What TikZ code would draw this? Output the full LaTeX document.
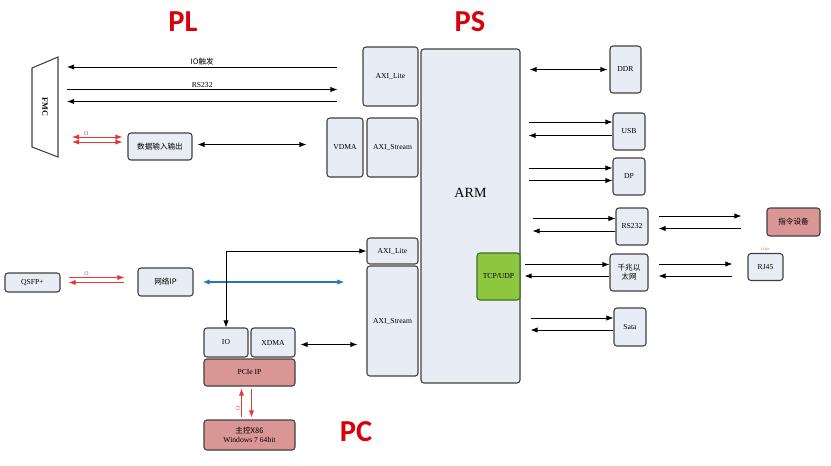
\documentclass[tikz,border=0pt]{standalone}
\usepackage{fontspec}
\setmainfont{Liberation Serif}
\newfontfamily\cjk{Noto Sans CJK SC}
\newfontfamily\titlefont{Carlito}
\usetikzlibrary{calc,arrows.meta}
\definecolor{boxfill}{HTML}{E8ECF4}
\definecolor{boxline}{HTML}{404040}
\definecolor{pinkfill}{HTML}{D99694}
\definecolor{armgreen}{HTML}{8DC63F}
\definecolor{greenline}{HTML}{3F6F1F}
\definecolor{linkred}{HTML}{E5383B}
\definecolor{linkblue}{HTML}{2E75B6}
\definecolor{titlered}{HTML}{D9000D}
\tikzset{
  blk/.style={draw=boxline, fill=boxfill, line width=0.9pt, rounded corners=2.5pt,
    inner sep=1pt, align=center, font=\fontsize{6.5}{7.5}\selectfont},
  pinkblk/.style={blk, fill=pinkfill},
  titletxt/.style={font=\titlefont\bfseries\fontsize{26}{30}\selectfont, text=titlered},
  lbl/.style={font=\fontsize{6.5}{7.5}\selectfont, inner sep=1.5pt},
  redlbl/.style={font=\fontsize{5}{5}\selectfont, text=linkred, inner sep=1pt},
  link/.style={line width=0.75pt, draw=black},
  redlink/.style={line width=0.75pt, draw=linkred},
  bluelink/.style={line width=0.9pt, draw=linkblue}
}
\begin{document}
\begin{tikzpicture}[x=0.03cm, y=-0.03cm, >={Latex[length=6pt,width=4.5pt]}]
\useasboundingbox (0,0) rectangle (831,465);

% titles
\node[titletxt] (pl) at (183,22) {PL};
\node[titletxt] (ps) at (470,22) {PS};
\node[titletxt] (pc) at (356,432) {PC};

% PS side
\node[blk, minimum width=2.97cm, minimum height=10.02cm] (arm) at (470.5,216) {};
\node[font=\fontsize{12}{14}\selectfont] (armtxt) at ($(arm)+(0,-23)$) {ARM};
\node[blk, fill=armgreen, draw=greenline, minimum width=1.29cm, minimum height=1.41cm] (tcp) at (498.5,276.5) {TCP/UDP};
\node[blk, minimum width=1.65cm, minimum height=1.77cm] (axil1) at (390.5,76.5) {AXI\_Lite};
\node[blk, minimum width=1.08cm, minimum height=1.77cm] (vdma) at (345,147.5) {VDMA};
\node[blk, minimum width=1.53cm, minimum height=1.77cm] (axis1) at (392.5,147.5) {AXI\_Stream};
\node[blk, minimum width=1.53cm, minimum height=0.78cm] (axil2) at (392.5,251) {AXI\_Lite};
\node[blk, minimum width=1.53cm, minimum height=3.3cm] (axis2) at (392.5,321) {AXI\_Stream};

% peripherals
\node[blk, minimum width=0.93cm, minimum height=1.41cm] (ddr) at (625.5,69.5) {DDR};
\node[blk, minimum width=0.96cm, minimum height=1.11cm] (usb) at (629,131.5) {USB};
\node[blk, minimum width=0.96cm, minimum height=1.11cm] (dp) at (629,176.5) {DP};
\node[blk, minimum width=0.96cm, minimum height=1.11cm] (rs232b) at (632,226.5) {RS232};
\node[blk, minimum width=1.14cm, minimum height=1.11cm] (gbe) at (629,272.5) {\cjk 千兆以\\\cjk 太网};
\node[blk, minimum width=0.96cm, minimum height=1.14cm] (sata) at (630,327) {Sata};
\node[pinkblk, minimum width=1.59cm, minimum height=0.84cm] (cmd) at (793.5,222) {\cjk 指令设备};
\node[blk, minimum width=1.05cm, minimum height=0.81cm] (rj45) at (765.5,267) {RJ45};
\node[redlbl, font=\fontsize{3}{3}\selectfont] (rjnote) at (765,249) {1 Gbit};

% PL side
\draw[draw=boxline, line width=0.9pt] (32,68) -- (58,57) -- (58,157) -- (32,147) -- cycle;
\node[rotate=-90, font=\bfseries\fontsize{7}{8}\selectfont] (fmctxt) at (45,107) {FMC};
\coordinate (fmc) at (58,107);
\node[blk, minimum width=1.92cm, minimum height=0.81cm] (dataio) at (160,146.5) {\cjk 数据输入输出};
\node[blk, minimum width=1.65cm, minimum height=0.57cm] (qsfp) at (32.5,282.5) {QSFP+};
\node[blk, minimum width=1.65cm, minimum height=0.84cm] (netip) at (165.5,282) {\cjk 网络IP};

% PC side
\node[blk, minimum width=1.32cm, minimum height=0.87cm] (io) at (226,342.5) {IO};
\node[blk, minimum width=1.32cm, minimum height=0.87cm] (xdma) at (273,342.5) {XDMA};
\node[pinkblk, minimum width=2.73cm, minimum height=0.81cm] (pcie) at (249.5,372.5) {PCIe IP};
\node[pinkblk, minimum width=2.73cm, minimum height=0.9cm] (host) at (249.5,435) {\cjk 主控X86\\Windows 7 64bit};

% FMC links
\draw[link, <-] ($(fmc)+(9,-40)$) -- node[lbl, above] (lio) {\cjk IO触发} ($(axil1.west)+(-25,-9.5)$);
\draw[link, ->] ($(fmc)+(9,-17.5)$) -- node[lbl, above] (lrs) {RS232} ($(axil1.west)+(-25,13)$);
\draw[link, <-] ($(fmc)+(9,-5.5)$) -- ($(axil1.west)+(-25,25)$);
\draw[redlink, <->] ($(fmc)+(14,30)$) -- node[redlbl, pos=0.28, above] (lo1) {O} ($(dataio.west)+(-5,-9.5)$);
\draw[redlink, <->] ($(fmc)+(14,35)$) -- ($(dataio.west)+(-5,-4.5)$);
\draw[link, <->] ($(dataio.east)+(5,-2)$) -- ($(dataio.east -| vdma.west)+(-20,-2)$);

% ARM links
\draw[link, <->] ($(arm.east |- ddr.west)+(9,0)$) -- ($(ddr.west)+(-2,0)$);
\draw[link, ->] ($(arm.east |- usb.west)+(8,-9.5)$) -- ($(usb.west)+(0,-9.5)$);
\draw[link, <-] ($(arm.east |- usb.west)+(8,4)$) -- ($(usb.west)+(0,4)$);
\draw[link, ->] ($(arm.east |- dp.west)+(8,-8.5)$) -- ($(dp.west)+(0,-8.5)$);
\draw[link, ->] ($(arm.east |- dp.west)+(8,4)$) -- ($(dp.west)+(0,4)$);
\draw[link, ->] ($(arm.east |- rs232b.west)+(12,-8)$) -- ($(rs232b.west)+(0,-8)$);
\draw[link, <-] ($(arm.east |- rs232b.west)+(12,4.5)$) -- ($(rs232b.west)+(0,4.5)$);
\draw[link, ->] ($(rs232b.east)+(10,-10.5)$) -- ($(cmd.west)+(-25,-6)$);
\draw[link, <-] ($(rs232b.east)+(10,2)$) -- ($(cmd.west)+(-25,6.5)$);
\draw[link, ->] ($(tcp.east |- gbe.west)+(4,-8)$) -- ($(gbe.west)+(0,-8)$);
\draw[link, <-] ($(tcp.east |- gbe.west)+(4,3.5)$) -- ($(gbe.west)+(0,3.5)$);
\draw[link, ->] ($(gbe.east)+(10,-8.5)$) -- ($(rj45.west)+(-15,-3)$);
\draw[link, <-] ($(gbe.east)+(10,3.5)$) -- ($(rj45.west)+(-15,9)$);
\draw[link, ->] ($(arm.east |- sata.west)+(10,-9)$) -- ($(sata.west)+(0,-9)$);
\draw[link, <-] ($(arm.east |- sata.west)+(10,3)$) -- ($(sata.west)+(0,3)$);

% network and PCIe links
\draw[redlink, ->] ($(qsfp.east)+(8,-5)$) -- node[redlbl, pos=0.32, above] (lo2) {O} ($(netip.west)+(-13,-4.5)$);
\draw[redlink, <-] ($(qsfp.east)+(8,0)$) -- ($(netip.west)+(-13,0.5)$);
\draw[bluelink, <->] ($(netip.east)+(9,0)$) -- ($(netip.east -| axis2.west)+(-22,0)$);
\draw[link, <->] (io.north) |- (axil2.west);
\draw[link, <->] ($(xdma.east)+(5,2)$) -- ($(xdma.east -| axis2.west)+(-9,2)$);
\draw[redlink, ->] ($(host.north)+(-8,-2)$) -- node[redlbl, pos=0.3, left, rotate=90, anchor=south] (lo3) {O} ($(pcie.south)+(-8,2)$);
\draw[redlink, ->] ($(pcie.south)+(2,2)$) -- ($(host.north)+(2,-2)$);
\end{tikzpicture}
\end{document}
